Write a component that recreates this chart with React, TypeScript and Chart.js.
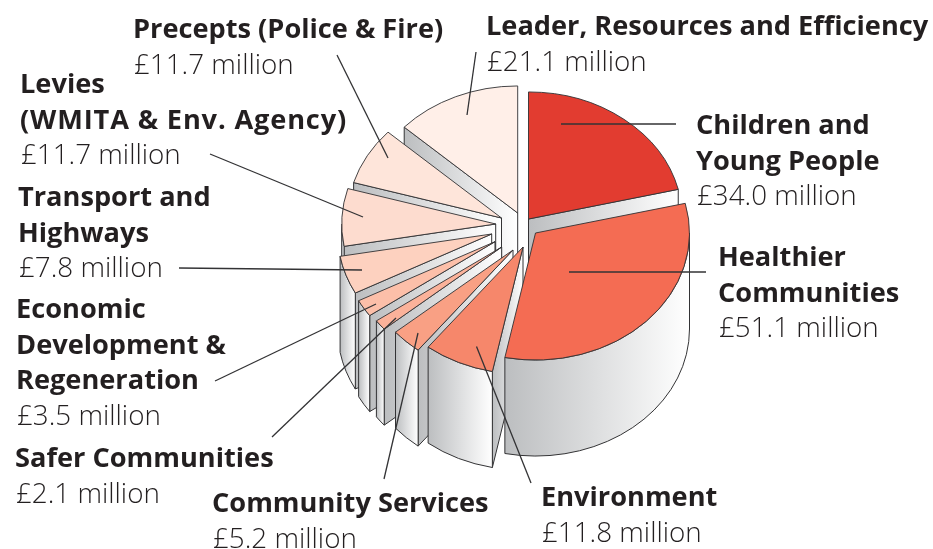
import React, { useEffect, useRef } from "react";
import { Chart, registerables } from "chart.js";

Chart.register(...registerables);

// Budget by portfolio, in £ million, clockwise from twelve o'clock.
const portfolios = [
  "Children and Young People",
  "Healthier Communities",
  "Environment",
  "Community Services",
  "Safer Communities",
  "Economic Development & Regeneration",
  "Transport and Highways",
  "Levies (WMITA & Env. Agency)",
  "Precepts (Police & Fire)",
  "Leader, Resources and Efficiency",
];
const budgets = [34.0, 51.1, 11.8, 5.2, 2.1, 3.5, 7.8, 11.7, 11.7, 21.1];
const topColours = [
  "#e23c30", "#f46c53", "#f6876b", "#f9a084", "#fbb29a",
  "#fcbfa9", "#fdd1bf", "#fddccf", "#fee5da", "#ffefe8",
];

// Where the point of each exploded wedge sits on the page.
const wedgeTipX = [528.5, 535.5, 523, 513, 501.7, 495, 491.7, 495.7, 501.5, 517.7];
const wedgeTipY = [219, 233, 247, 250, 247, 241.7, 234, 224, 218, 213];
// Painting order of the side walls, rear to front.
const wallOrder = [9, 0, 8, 7, 6, 5, 4, 3, 2, 1];

const PIE_RADIUS = 154;
const TILT = 0.825;
const WALL_DEPTH = 96;
const WALL_DARK = "#bcbec0";
const WALL_LIGHT = "#ffffff";
const OUTLINE = "#333335";
const INK = "#231f20";

// Caption layout: one row per portfolio, x then the baseline of its first line.
const captionX = [696, 718, 541, 212, 15, 16, 18, 20, 133, 486];
const captionY = [134, 266, 506, 512, 467, 318, 206, 93, 38, 35];
const captionLines = [
  ["Children and", "Young People"],
  ["Healthier", "Communities"],
  ["Environment"],
  ["Community Services"],
  ["Safer Communities"],
  ["Economic", "Development &", "Regeneration"],
  ["Transport and", "Highways"],
  ["Levies", "(WMITA & Env. Agency)"],
  ["Precepts (Police & Fire)"],
  ["Leader, Resources and Efficiency"],
];
const LINE_STEP = 35.5;
const WIDE_LINE = "(WMITA & Env. Agency)";

// Leader lines, from inside the wedge out to its caption.
const leaderFrom = [[561, 124], [569, 272], [476.5, 346.5], [418, 333], [396, 318], [376, 304], [362, 270], [363, 217], [388, 158], [467, 115]];
const leaderTo = [[676, 124], [706, 272], [531, 483], [384, 479], [272, 437], [215, 381], [179, 268], [210, 154], [337, 55], [476, 52]];

const wallFace = (ctx: CanvasRenderingContext2D, trace: () => void, xa: number, xb: number) => {
  const g = ctx.createLinearGradient(Math.min(xa, xb), 0, Math.max(xa, xb), 0);
  g.addColorStop(0, WALL_DARK);
  g.addColorStop(1, WALL_LIGHT);
  ctx.beginPath();
  trace();
  ctx.closePath();
  ctx.fillStyle = g;
  ctx.fill();
  ctx.strokeStyle = OUTLINE;
  ctx.lineWidth = 1;
  ctx.stroke();
};

const drawRadialWall = (ctx: CanvasRenderingContext2D, el: any, angle: number) => {
  const x0 = el.x;
  const y0 = el.y * TILT;
  const x1 = x0 + el.outerRadius * Math.cos(angle);
  const y1 = y0 + el.outerRadius * TILT * Math.sin(angle);
  wallFace(ctx, () => {
    ctx.moveTo(x0, y0);
    ctx.lineTo(x1, y1);
    ctx.lineTo(x1, y1 + WALL_DEPTH);
    ctx.lineTo(x0, y0 + WALL_DEPTH);
  }, x0, x1);
};

const drawRimWall = (ctx: CanvasRenderingContext2D, el: any) => {
  const from = Math.max(el.startAngle, 0);
  const to = Math.min(el.endAngle, Math.PI);
  if (to <= from) return;
  const x0 = el.x;
  const y0 = el.y * TILT;
  const r = el.outerRadius;
  const rimXs = [from, to, Math.PI / 2]
    .filter((a) => a >= from && a <= to)
    .map((a) => x0 + r * Math.cos(a));
  wallFace(ctx, () => {
    ctx.ellipse(x0, y0, r, r * TILT, 0, from, to, false);
    ctx.ellipse(x0, y0 + WALL_DEPTH, r, r * TILT, 0, to, from, true);
  }, Math.min(...rimXs), Math.max(...rimXs));
};

const tiltedPie = {
  id: "tiltedPie",
  afterDatasetsUpdate(chart: any) {
    chart.getDatasetMeta(0).data.forEach((el: any, i: number) => {
      el.x = wedgeTipX[i];
      el.y = wedgeTipY[i] / TILT;
    });
  },
  beforeDatasetsDraw(chart: any) {
    const { ctx } = chart;
    const arcs = chart.getDatasetMeta(0).data;
    ctx.save();
    ctx.lineJoin = "round";
    wallOrder.forEach((i) => {
      const el = arcs[i];
      if (Math.cos(el.startAngle) < -1e-6) drawRadialWall(ctx, el, el.startAngle);
      if (Math.cos(el.endAngle) > 1e-6) drawRadialWall(ctx, el, el.endAngle);
      drawRimWall(ctx, el);
    });
    ctx.restore();
    ctx.save();
    ctx.scale(1, TILT);
  },
  afterDatasetsDraw(chart: any) {
    chart.ctx.restore();
  },
  afterDraw(chart: any) {
    const { ctx } = chart;
    ctx.save();
    ctx.strokeStyle = OUTLINE;
    ctx.lineWidth = 1.3;
    leaderFrom.forEach((p, i) => {
      ctx.beginPath();
      ctx.moveTo(p[0], p[1]);
      ctx.lineTo(leaderTo[i][0], leaderTo[i][1]);
      ctx.stroke();
    });
    ctx.fillStyle = INK;
    ctx.textAlign = "left";
    ctx.textBaseline = "alphabetic";
    budgets.forEach((value, i) => {
      const lines = captionLines[i];
      ctx.font = '700 27.2px "Open Sans"';
      lines.forEach((line, n) => {
        ctx.letterSpacing = line === WIDE_LINE ? "0.85px" : "0px";
        ctx.fillText(line, captionX[i], captionY[i] + n * LINE_STEP);
      });
      ctx.letterSpacing = "0px";
      ctx.font = '300 27.8px "Open Sans"';
      ctx.fillText(`£${value.toFixed(1)} million`, captionX[i] + 1, captionY[i] + lines.length * LINE_STEP);
    });
    ctx.restore();
  },
};

export default function App() {
  const canvasRef = useRef<HTMLCanvasElement>(null);
  useEffect(() => {
    const chart = new Chart(canvasRef.current as HTMLCanvasElement, {
      type: "pie",
      data: {
        labels: portfolios,
        datasets: [
          {
            data: budgets,
            backgroundColor: topColours,
            borderColor: OUTLINE,
            borderWidth: 1,
            borderJoinStyle: "round",
            radius: PIE_RADIUS,
          },
        ],
      },
      options: {
        responsive: false,
        animation: false,
        layout: { padding: 0 },
        plugins: { legend: { display: false }, tooltip: { enabled: false } },
      },
      plugins: [tiltedPie],
    } as any);
    return () => chart.destroy();
  }, []);
  return (
    <div style={{ position: "fixed", left: 0, top: 0, width: 933, height: 549, background: "#fff" }}>
      <canvas ref={canvasRef} width={933} height={549} style={{ display: "block" }} />
    </div>
  );
}
